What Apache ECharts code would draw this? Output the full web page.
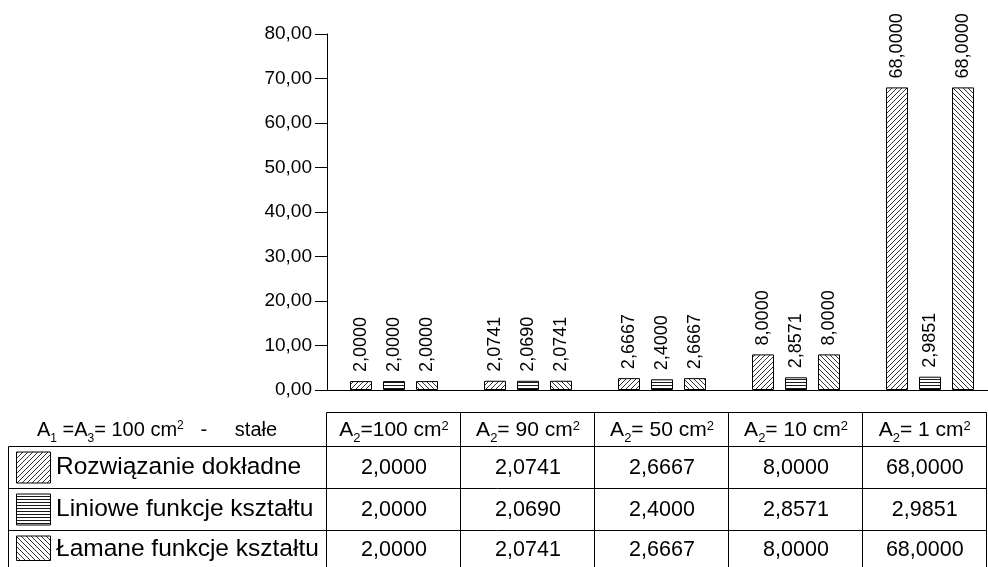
<!DOCTYPE html>
<html><head><meta charset="utf-8">
<script src="https://cdn.jsdelivr.net/npm/echarts@6/dist/echarts.min.js"></script>
<style>html,body{margin:0;padding:0;background:#fff}#c{width:988px;height:567px}</style>
</head><body><div id="c"></div>
<script>
// ---- data ----
const areaA2 = ['100', ' 90', ' 50', ' 10', ' 1'];
const categories = ['A2=100 cm2', 'A2=90 cm2', 'A2=50 cm2', 'A2=10 cm2', 'A2=1 cm2'];
const seriesNames = ['Rozwiązanie dokładne', 'Liniowe funkcje kształtu', 'Łamane funkcje kształtu'];
const exactValues = [2.0000, 2.0741, 2.6667, 8.0000, 68.0000];
const linearValues = [2.0000, 2.0690, 2.4000, 2.8571, 2.9851];
const brokenValues = [2.0000, 2.0741, 2.6667, 8.0000, 68.0000];
const yTicks = { min: 0, max: 80, interval: 10 };
const constLabel = ['A', '1', ' =A', '3', '= 100 cm', '2', '   -     stałe'];

const FONT = '"Liberation Sans", Arial, Helvetica, sans-serif';
const fmt4 = v => v.toFixed(4).replace('.', ',');
const fmt2 = v => v.toFixed(2).replace('.', ',');

function tile(kind) {
  const c = document.createElement('canvas');
  const ctx = c.getContext('2d');
  if (kind === 'h') {
    c.width = 4; c.height = 3;
    ctx.fillStyle = '#fff'; ctx.fillRect(0, 0, 4, 3);
    ctx.strokeStyle = '#000'; ctx.lineWidth = 0.9;
    ctx.beginPath(); ctx.moveTo(0, 1.5); ctx.lineTo(4, 1.5); ctx.stroke();
  } else {
    const s = 5;
    c.width = s; c.height = s;
    ctx.fillStyle = '#fff'; ctx.fillRect(0, 0, s, s);
    ctx.strokeStyle = '#000'; ctx.lineWidth = 0.8;
    ctx.beginPath();
    if (kind === 'f') {
      ctx.moveTo(-1, 1); ctx.lineTo(1, -1);
      ctx.moveTo(0, s); ctx.lineTo(s, 0);
      ctx.moveTo(s - 1, s + 1); ctx.lineTo(s + 1, s - 1);
    } else {
      ctx.moveTo(0, 0); ctx.lineTo(s, s);
      ctx.moveTo(-1, s - 1); ctx.lineTo(1, s + 1);
      ctx.moveTo(s - 1, -1); ctx.lineTo(s + 1, 1);
    }
    ctx.stroke();
  }
  return { image: c, repeat: 'repeat' };
}
const patterns = [tile('f'), tile('h'), tile('b')];
const seriesData = [exactValues, linearValues, brokenValues];

const chart = echarts.init(document.getElementById('c'), null, { renderer: 'canvas' });
chart.setOption({
  animation: false,
  backgroundColor: '#fff',
  grid: { left: 327, top: 34, width: 670, height: 356, outerBoundsMode: 'none', containLabel: false },
  xAxis: {
    type: 'category', data: categories,
    axisLine: { lineStyle: { color: '#000', width: 1 } },
    axisTick: { show: false }, axisLabel: { show: false }
  },
  yAxis: {
    type: 'value', min: yTicks.min, max: yTicks.max, interval: yTicks.interval,
    axisLine: { show: true, lineStyle: { color: '#000', width: 1 } },
    axisTick: { show: true, length: 12, lineStyle: { color: '#000' } },
    axisLabel: { formatter: fmt2, color: '#000', fontSize: 19, fontFamily: FONT, margin: 15 },
    splitLine: { show: false }
  },
  series: seriesNames.map((n, i) => ({
    type: 'bar', name: n, data: seriesData[i],
    barWidth: 22, barGap: '50%',
    itemStyle: { color: patterns[i], borderColor: '#000', borderWidth: 1 },
    label: {
      show: true, position: 'top', rotate: 90, align: 'left', verticalAlign: 'middle',
      distance: 9, fontSize: 18, color: '#000', fontFamily: FONT,
      formatter: p => fmt4(p.value)
    }
  }))
});

// ---- table below the chart ----
const centers = categories.map((c, i) => chart.convertToPixel({ xAxisIndex: 0 }, i));
const band = centers[1] - centers[0];
const bounds = [centers[0] - band / 2].concat(centers.map(c => c + band / 2));
bounds[bounds.length - 1] = Math.min(bounds[bounds.length - 1], 986.5);
const X0 = Math.round(bounds[0]) - 0.5;
const XL = 8.5;
const rowsY = [412.5, 446.5, 488.5, 530.5, 567];
const XR = bounds[bounds.length - 1];
const g = [];
const line = (x1, y1, x2, y2) => g.push({ type: 'line', shape: { x1, y1, x2, y2 }, style: { stroke: '#000', lineWidth: 1 }, silent: true });
line(X0, rowsY[0], XR, rowsY[0]);
for (let r = 1; r <= 3; r++) line(XL, rowsY[r], XR, rowsY[r]);
line(XL, rowsY[1], XL, 567);
bounds.forEach((b, i) => line(i === 0 ? X0 : Math.round(b) - 0.5, rowsY[0], i === 0 ? X0 : Math.round(b) - 0.5, 567));

const mkRich = (fs, ss) => ({
  t: { fontSize: fs, fontFamily: FONT, fill: '#000', lineHeight: 28, verticalAlign: 'middle' },
  sub: { fontSize: ss, fontFamily: FONT, fill: '#000', verticalAlign: 'bottom' },
  sup: { fontSize: ss, fontFamily: FONT, fill: '#000', verticalAlign: 'top', padding: [3, 0, 0, 0] }
});
// header row
areaA2.forEach((v, i) => {
  const cx = (bounds[i] + bounds[i + 1]) / 2;
  g.push({ type: 'text', x: cx, y: (rowsY[0] + rowsY[1]) / 2 + 1, silent: true,
    style: { text: '{t|A}{sub|2}{t|=' + v + ' cm}{sup|2}', rich: mkRich(21, 13), align: 'center', verticalAlign: 'middle' } });
});
g.push({ type: 'text', x: 37, y: (rowsY[0] + rowsY[1]) / 2 + 1, silent: true,
  style: { text: '{t|' + constLabel[0] + '}{sub|' + constLabel[1] + '}{t|' + constLabel[2] + '}{sub|' + constLabel[3] + '}{t|' + constLabel[4] + '}{sup|' + constLabel[5] + '}{t|' + constLabel[6] + '}', rich: mkRich(20, 12), align: 'left', verticalAlign: 'middle' } });
// data rows
seriesNames.forEach((n, r) => {
  const y0 = rowsY[r + 1], y1 = rowsY[r + 2];
  const cy = (y0 + y1) / 2;
  g.push({ type: 'rect', silent: true, shape: { x: 16.5, y: y0 + 5.5, width: 34, height: Math.min(y1, 566) - y0 - 11 },
    style: { fill: patterns[r], stroke: '#000', lineWidth: 1 } });
  g.push({ type: 'text', x: 56, y: cy, silent: true,
    style: { text: n, font: '24.5px ' + FONT, fill: '#000', align: 'left', verticalAlign: 'middle' } });
  seriesData[r].forEach((v, i) => {
    const cx = (bounds[i] + bounds[i + 1]) / 2;
    g.push({ type: 'text', x: cx, y: cy + 1, silent: true,
      style: { text: fmt4(v), font: '21.5px ' + FONT, fill: '#000', align: 'center', verticalAlign: 'middle' } });
  });
});
chart.setOption({ graphic: g });
</script>
</body></html>
